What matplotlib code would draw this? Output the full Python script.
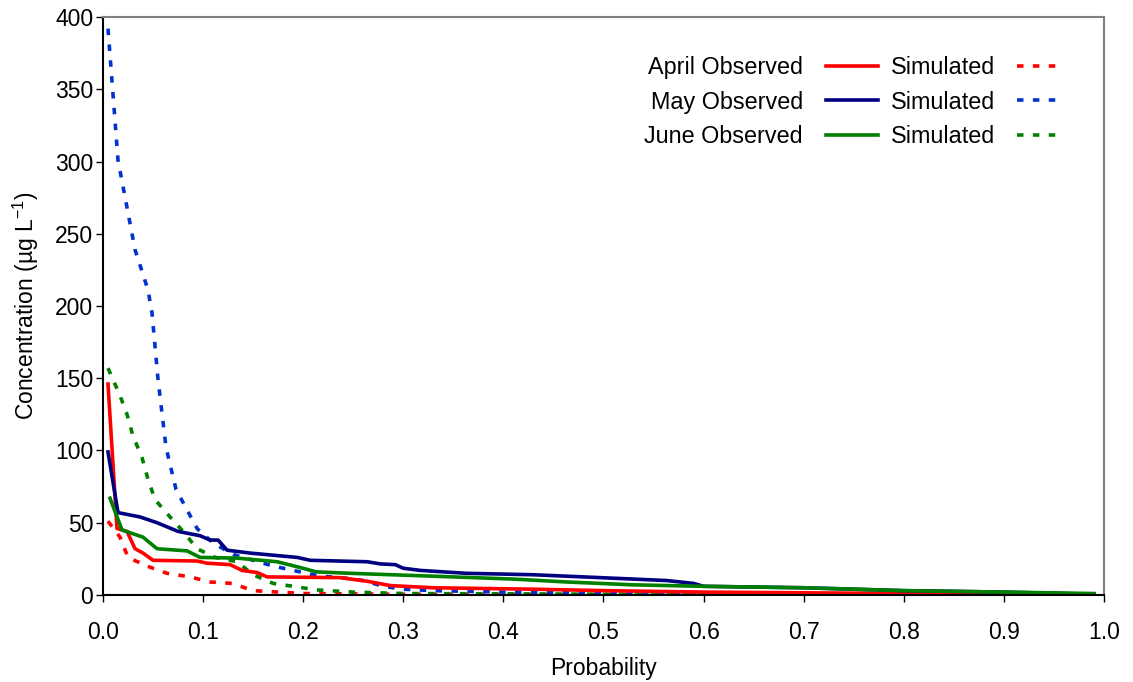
import matplotlib
matplotlib.use("Agg")
import matplotlib.pyplot as plt

plt.rcParams['font.family'] = ['Liberation Sans', 'DejaVu Sans']
plt.rcParams['mathtext.fontset'] = 'custom'
plt.rcParams['mathtext.rm'] = 'Liberation Sans'
plt.rcParams['mathtext.it'] = 'Liberation Sans'

# ---- data (probability, concentration) ----
apr_obs_p = [0.005, 0.014, 0.024, 0.032, 0.04, 0.05, 0.094, 0.104, 0.127, 0.139, 0.154, 0.164,
             0.237, 0.264, 0.287, 0.33, 0.43, 0.5, 0.6, 0.7, 0.8, 0.9, 0.99]
apr_obs_c = [146, 46, 44, 32, 29, 24, 23.5, 22, 21, 17, 15.5, 12.5,
             12, 9.5, 6.5, 5, 4, 3, 2, 1.5, 1, 0.5, 0.2]

may_obs_p = [0.005, 0.015, 0.037, 0.054, 0.075, 0.097, 0.107, 0.115, 0.124, 0.147, 0.194, 0.207,
             0.264, 0.277, 0.292, 0.3, 0.317, 0.363, 0.43, 0.497, 0.563, 0.59, 0.6, 0.7, 0.8, 0.9, 0.99]
may_obs_c = [99, 57, 54, 50, 44, 41, 38, 38, 31, 29, 26, 24,
             23, 21.5, 21, 18.5, 17, 15, 14, 12, 10, 8, 6, 5, 3, 2, 0.5]

jun_obs_p = [0.007, 0.019, 0.04, 0.054, 0.084, 0.097, 0.134, 0.174, 0.197, 0.213, 0.247, 0.33,
             0.41, 0.463, 0.53, 0.6, 0.7, 0.75, 0.8, 0.9, 0.99]
jun_obs_c = [67, 45, 40, 32, 30.5, 26, 25.5, 23, 19, 16, 15, 13,
             11, 9, 7, 6, 5, 4, 3, 2, 1]

apr_sim_p = [0.005, 0.017, 0.025, 0.044, 0.064, 0.087, 0.107, 0.129, 0.15, 0.2, 0.3, 0.5, 0.83]
apr_sim_c = [51, 40, 26, 20, 15, 12.5, 9, 8, 3, 1, 0.5, 0.3, 0]

may_sim_p = [0.005, 0.015, 0.032, 0.045, 0.049, 0.055, 0.063, 0.073, 0.094, 0.11, 0.13, 0.17,
             0.197, 0.217, 0.238, 0.26, 0.28, 0.3, 0.33, 0.4, 0.5, 0.6, 0.7, 0.77]
may_sim_c = [392, 301, 239, 211, 195, 149, 102, 73, 46, 36, 28, 20,
             16, 13, 12, 10, 6, 4, 3, 2, 1.5, 1, 0.5, 0]

jun_sim_p = [0.005, 0.017, 0.024, 0.03, 0.039, 0.045, 0.052, 0.067, 0.08, 0.094, 0.112, 0.134,
             0.15, 0.17, 0.19, 0.213, 0.25, 0.3, 0.5, 0.85]
jun_sim_c = [157, 138, 125, 110, 95, 80, 66, 54, 44, 32, 26, 23,
             14, 8, 6, 3.5, 2, 1, 0.5, 0]

obs_labels = ["April Observed", "May Observed", "June Observed"]
sim_label = "Simulated"
x_ticks = [0.0, 0.1, 0.2, 0.3, 0.4, 0.5, 0.6, 0.7, 0.8, 0.9, 1.0]
y_ticks = [0, 50, 100, 150, 200, 250, 300, 350, 400]

# ---- figure ----
fig = plt.figure(figsize=(11.33, 6.82), dpi=100)
ax = fig.add_axes([0.0909, 0.1276, 0.8835, 0.8474])

lw = 2.6
dash = (0, (1.8, 2.6))
red, navy, green, blue = '#FF0000', '#000080', '#008000', '#0033CC'

h_sa, = ax.plot(apr_sim_p, apr_sim_c, color=red, lw=lw, linestyle=dash, dash_capstyle='butt')
h_sm, = ax.plot(may_sim_p, may_sim_c, color=blue, lw=lw, linestyle=dash, dash_capstyle='butt')
h_sj, = ax.plot(jun_sim_p, jun_sim_c, color=green, lw=lw, linestyle=dash, dash_capstyle='butt')
h_oa, = ax.plot(apr_obs_p, apr_obs_c, color=red, lw=lw)
h_om, = ax.plot(may_obs_p, may_obs_c, color=navy, lw=lw)
h_oj, = ax.plot(jun_obs_p, jun_obs_c, color=green, lw=lw)

ax.set_xlim(0, 1.0)
ax.set_ylim(0, 400)
ax.set_xticks(x_ticks)
ax.set_xticklabels([f"{v:.1f}" for v in x_ticks])
ax.set_yticks(y_ticks)
ax.tick_params(direction='out', length=5, width=1, labelsize=16.5, colors='black')
ax.tick_params(axis='y', pad=2)
ax.tick_params(axis='x', pad=14)

for s in ['top', 'right']:
    ax.spines[s].set_color('#808080')
    ax.spines[s].set_linewidth(1.5)
for s in ['left', 'bottom']:
    ax.spines[s].set_color('black')
    ax.spines[s].set_linewidth(1.5)

ax.set_xlabel("Probability", fontsize=16.5, labelpad=9)
ax.set_ylabel(r"Concentration (µg L$^{-1}$)", fontsize=16.5, labelpad=10)

leg1 = ax.legend([h_oa, h_om, h_oj], obs_labels, markerfirst=False, frameon=False,
                 loc='upper right', bbox_to_anchor=(0.774, 0.932), fontsize=16.8,
                 handlelength=2.2, handletextpad=1.0, labelspacing=0.48, borderpad=0,
                 borderaxespad=0)
ax.add_artist(leg1)
leg2 = ax.legend([h_sa, h_sm, h_sj], [sim_label] * 3, markerfirst=False, frameon=False,
                 loc='upper left', bbox_to_anchor=(0.787, 0.932), fontsize=16.8,
                 handlelength=1.68, handletextpad=0.95, labelspacing=0.48, borderpad=0,
                 borderaxespad=0)

fig.savefig("out.png", dpi=100)
